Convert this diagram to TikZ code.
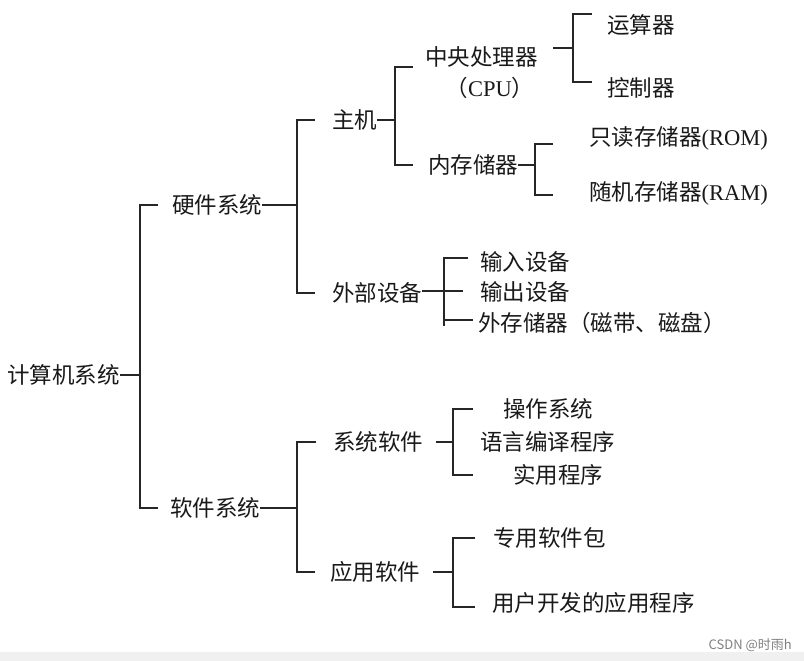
\documentclass[tikz,border=0pt]{standalone}
\usepackage{fontspec}
\setmainfont{Noto Sans CJK SC}
\newfontfamily\latfont{Liberation Serif}
\usetikzlibrary{calc}

\begin{document}
\begin{tikzpicture}[x=1pt,y=-1pt,
  lbl/.style={anchor=west,inner sep=0pt,text=black!90,font=\fontsize{22.5}{27}\selectfont},
  br/.style={line width=1.1pt,black!85}]
\useasboundingbox (0,0) rectangle (804,661);
\fill[black!6] (0,652) rectangle (804,661);

\node[lbl] (root) at (7,375) {计算机系统};
\node[lbl] (hw) at (172,205) {硬件系统};
\node[lbl] (sw) at (170,508) {软件系统};
\node[lbl] (host) at (332,120) {主机};
\node[lbl] (ext) at (332,293) {外部设备};
\node[lbl] (cpu) at (425,57) {中央处理器};
\node[lbl,anchor=center] (cpuen) at (490,88) {（{\latfont CPU}）};
\node[lbl] (alu) at (607,25) {运算器};
\node[lbl] (ctl) at (607,88) {控制器};
\node[lbl] (mem) at (428,165) {内存储器};
\node[lbl] (rom) at (589,138) {只读存储器{\latfont(ROM)}};
\node[lbl] (ram) at (589,193) {随机存储器{\latfont(RAM)}};
\node[lbl] (in) at (480,262) {输入设备};
\node[lbl] (out) at (480,292) {输出设备};
\node[lbl] (disk) at (478,323) {外存储器（磁带、磁盘）};
\node[lbl] (syssw) at (333,442) {系统软件};
\node[lbl] (appsw) at (330,572) {应用软件};
\node[lbl] (os) at (503,409) {操作系统};
\node[lbl] (comp) at (480,442) {语言编译程序};
\node[lbl] (util) at (513,475) {实用程序};
\node[lbl] (pkg) at (493,538) {专用软件包};
\node[lbl] (user) at (492,603) {用户开发的应用程序};
\node[anchor=east,inner sep=0pt,text=black!50,font=\fontsize{13}{15}\selectfont] (mark) at (792,645) {CSDN @时雨h};

\coordinate (b1) at (140,375);
\coordinate (b2) at (297,205);
\coordinate (b3) at (395,120);
\coordinate (b4) at (573,48);
\coordinate (b5) at (535,165);
\coordinate (b6) at (444,291);
\coordinate (b9) at (297,508);
\coordinate (b7) at (453,442);
\coordinate (b8) at (453,572);

\draw[br] (root.east) -- (b1);
\draw[br] ([xshift=-14]hw.west) -| (b1) |- ([xshift=-12]sw.west);

\draw[br] (hw.east) -- (b2);
\draw[br] ([xshift=-17]host.west) -| (b2) |- ([xshift=-17]ext.west);

\draw[br] (host.east) -- (b3);
\draw[br] ([shift={(-12,10)}]cpu.west) -| (b3) |- ([xshift=-15]mem.west);

\draw[br] ([shift={(15,-9)}]cpu.east) -- (b4);
\draw[br] ([shift={(-15,-11)}]alu.west) -| (b4) |- ([shift={(-15,-6)}]ctl.west);

\draw[br] (mem.east) -- (b5);
\draw[br] ([shift={(-36,6)}]rom.west) -| (b5) |- ([shift={(-36,2)}]ram.west);

\draw[br] (ext.east |- b6) -- (b6);
\draw[br] ([shift={(-12,-4)}]in.west) -| (b6) |- ([shift={(-5,-3)}]disk.west);
\draw[br] (b6) -- ([xshift=-17]out.west |- b6);
\draw[br] ([yshift=3]b6 |- disk.west) -- ([yshift=-3]b6 |- disk.west);

\draw[br] (sw.east) -- (b9);
\draw[br] ([xshift=-17]syssw.west) -| (b9) |- ([xshift=-15]appsw.west);

\draw[br] ([xshift=13]syssw.east) -- (b7);
\draw[br] ([xshift=-30]os.west) -| (b7) |- ([xshift=-40]util.west);

\draw[br] ([xshift=13]appsw.east) -- (b8);
\draw[br] ([xshift=-18]pkg.west) -| (b8) |- ([shift={(-17,4)}]user.west);
\end{tikzpicture}
\end{document}
